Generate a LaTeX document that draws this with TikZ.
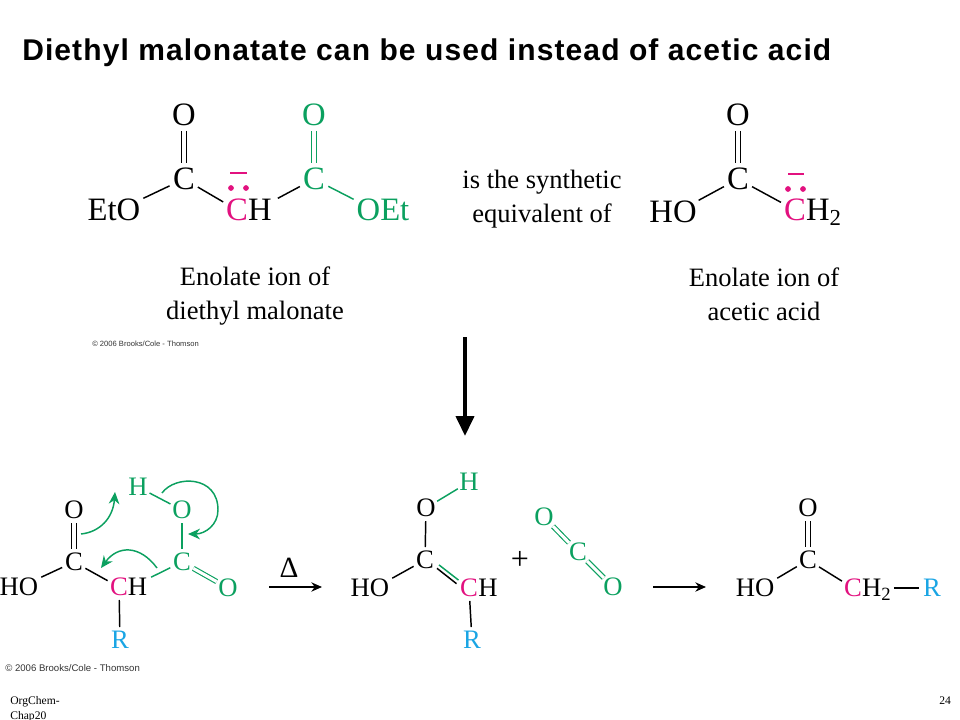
\documentclass[tikz,border=0pt]{standalone}
\usepackage{fontspec}
\setmainfont{Liberation Serif}
\newfontfamily\hdfont[LetterSpace=3.7]{Liberation Sans}
\newfontfamily\crfont{Liberation Sans}
\usetikzlibrary{arrows.meta}
\definecolor{gr}{HTML}{0BA05F}
\definecolor{pk}{HTML}{E2117F}
\definecolor{bl}{HTML}{1AA5E4}
\tikzset{
  big/.style={font=\fontsize{24.5}{26}\selectfont,inner sep=0pt,outer sep=0pt,text height=16pt,text depth=0pt},
  small/.style={font=\fontsize{20}{22}\selectfont,inner sep=0pt,outer sep=0pt,text height=13.2pt,text depth=0pt},
  atomb/.style={big,circle,minimum size=24pt},
  atoms/.style={small,circle,minimum size=19.5pt},
  bond/.style={line width=1.1pt},
  dbl/.style={line width=.85pt,double,double distance=2.8pt},
  dbls/.style={line width=.85pt,double,double distance=2.3pt},
  captxt/.style={font=\fontsize{19.9}{25.2}\selectfont,align=center,anchor=center,inner sep=0pt},
  copyr/.style={font=\crfont\fontsize{5.7}{7}\selectfont,text=black!80,anchor=base west,inner sep=0pt},
  copyrb/.style={font=\crfont\fontsize{7.2}{8}\selectfont,text=black!80,anchor=base west,inner sep=0pt},
  foot/.style={font=\fontsize{8.7}{11}\selectfont,anchor=base west,inner sep=0pt},
  curved/.style={gr,line width=1.1pt,-{Stealth[length=9pt,width=8pt]}},
  rxn/.style={line width=1pt,-{Stealth[length=8pt,width=7pt]}},
  lp/.style={pk,fill=pk,circle,minimum size=4.3pt,inner sep=0pt}
}
\begin{document}
\begin{tikzpicture}[x=.75pt,y=-.75pt]
\useasboundingbox (0,0) rectangle (960,720);
% title
\node[font=\hdfont\bfseries\fontsize{22.5}{24}\selectfont,anchor=base west,inner sep=0pt] (title) at (22,60.5) {Diethyl malonatate can be used instead of acetic acid};
% --- malonate enolate
\node[atomb] (o1) at (184,115) {O};
\node[atomb] (c1) at (184,179) {C};
\node[big] (eto) at (114,210) {EtO};
\node[atomb,text=pk] (c2) at (237,210) {C};
\node[big] (h2) at (260,210) {H};
\node[atomb,text=gr] (o3) at (314,115) {O};
\node[atomb,text=gr] (c3) at (314,179) {C};
\node[big,text=gr] (oet) at (383,210) {OEt};
\draw[dbl] (o1) -- (c1);
\draw[bond] ([shift={(3,-1)}]eto.north east) -- (c1);
\draw[bond] (c1) -- (c2);
\draw[bond] ([shift={(6,-1)}]h2.north east) -- (c3);
\draw[dbl,gr] (o3) -- (c3);
\draw[bond,gr] (c3) -- ([shift={(-3,0)}]oet.north west);
\node[lp] (d1) at (231,188) {};
\node[lp] (d2) at (246,188) {};
\coordinate (m1a) at (230,173);
\coordinate (m1b) at (247,173);
\draw[pk,line width=1pt] (m1a) -- (m1b);
\node[captxt] (t1) at (255,296) {Enolate ion of\\diethyl malonate};
\node[copyr] (cr1) at (92,346) {© 2006 Brooks/Cole - Thomson};
\node[captxt] (t2) at (542,199) {is the synthetic\\equivalent of};
% --- acetic acid enolate
\node[atomb] (o4) at (738,115) {O};
\node[atomb] (c4) at (738,179) {C};
\node[big] (ho4) at (673,212) {HO};
\node[atomb,text=pk] (c5) at (795,210) {C};
\node[big,anchor=west] (h5) at (806,210) {H$_{\mathrm 2}$};
\draw[dbl] (o4) -- (c4);
\draw[bond] ([shift={(2,-1)}]ho4.north east) -- (c4);
\draw[bond] (c4) -- (c5);
\node[lp] (d3) at (788,189) {};
\node[lp] (d4) at (803,189) {};
\coordinate (m2a) at (788,174);
\coordinate (m2b) at (804,174);
\draw[pk,line width=1pt] (m2a) -- (m2b);
\node[captxt] (t3) at (764,294) {Enolate ion of\\acetic acid};
% --- big arrow
\coordinate (ba) at (465,337);
\coordinate (bb) at (465,436);
\draw[line width=3pt,-{Triangle[length=15pt,width=13.5pt]}] (ba) -- (bb);
% --- lower left
\node[atoms] (o6) at (74,510) {O};
\node[atoms] (c6) at (74,562) {C};
\node[small] (ho6) at (19,587) {HO};
\node[atoms,text=pk] (c7) at (119,587) {C};
\node[small] (h7) at (137.5,587) {H};
\node[atoms,text=bl] (r7) at (120,640) {R};
\node[atoms,text=gr] (c8) at (182,562) {C};
\node[atoms,text=gr] (o8) at (182,510) {O};
\node[atoms,text=gr] (h8) at (138,487) {H};
\node[atoms,text=gr] (o9) at (228,588) {O};
\draw[dbls] (o6) -- (c6);
\draw[bond] ([shift={(3,-1)}]ho6.north east) -- (c6);
\draw[bond] (c6) -- (c7);
\draw[bond] (c7) -- (r7);
\draw[bond,gr] ([shift={(4,-1)}]h7.north east) -- (c8);
\draw[dbls,gr] (c8) -- (o9);
\draw[bond,gr] (o8) -- (c8);
\draw[bond,gr] (h8) -- (o8);
\coordinate (a1s) at (81,534);
\coordinate (a1e) at (115,492);
\coordinate (a2s) at (162,493);
\coordinate (a2e) at (188,534);
\coordinate (a3s) at (157,568);
\coordinate (a3e) at (101,568);
\draw[curved] (a1s) .. controls (100,532) and (113,518) .. (a1e);
\draw[curved] (a2s) .. controls (175,475) and (218,475) .. (218,510) .. controls (218,525) and (205,534) .. (a2e);
\draw[curved] (a3s) .. controls (140,545) and (118,545) .. (a3e);
\node[font=\fontsize{22}{24}\selectfont,inner sep=0pt] (delta) at (289,568) {Δ};
\coordinate (r1a) at (269,587);
\coordinate (r1b) at (322,587);
\draw[rxn] (r1a) -- (r1b);
% --- middle
\node[atoms] (o10) at (426,508) {O};
\node[atoms,text=gr] (h10) at (469,482) {H};
\node[atoms] (c10) at (425,560) {C};
\node[small] (ho10) at (370,588) {HO};
\node[atoms,text=pk] (c11) at (469,588) {C};
\node[small] (h11) at (488,588) {H};
\node[atoms,text=bl] (r11) at (472,640) {R};
\node[font=\fontsize{24}{26}\selectfont,inner sep=0pt] (plus) at (520,560) {+};
\node[atoms,text=gr] (o12) at (544,517) {O};
\node[atoms,text=gr] (c12) at (578,552) {C};
\node[atoms,text=gr] (o13) at (613,587) {O};
\draw[bond,gr] (o10) -- (h10);
\draw[bond] (o10) -- (c10);
\draw[bond] ([shift={(3,-1)}]ho10.north east) -- (c10);
\draw[bond,gr] ([shift={(2.5,-1.2)}]c10.-28) -- ([shift={(1,-1.8)}]c11.152);
\draw[bond] ([shift={(0.5,2.2)}]c10.-28) -- ([shift={(-1,1.8)}]c11.152);
\draw[bond] (c11) -- (r11);
\draw[dbls,gr] (o12) -- (c12);
\draw[dbls,gr] (c12) -- (o13);
\coordinate (r2a) at (653,587);
\coordinate (r2b) at (706,587);
\draw[rxn] (r2a) -- (r2b);
% --- product
\node[atoms] (o14) at (808,508) {O};
\node[atoms] (c14) at (808,560) {C};
\node[small] (ho14) at (755,588) {HO};
\node[atoms,text=pk] (c15) at (853,588) {C};
\node[small,anchor=west] (h15) at (862,588) {H$_{\mathrm 2}$};
\node[atoms,text=bl] (r15) at (932,588) {R};
\draw[dbls] (o14) -- (c14);
\draw[bond] ([shift={(3,-1)}]ho14.north east) -- (c14);
\draw[bond] (c14) -- (c15);
\draw[bond] ([xshift=2pt]h15.east) -- (r15);
\node[copyrb] (cr2) at (5,671) {© 2006 Brooks/Cole - Thomson};
% --- footer
\node[foot] (f1) at (10,704) {OrgChem-};
\node[foot] (f2) at (10,719) {Chap20};
\node[foot] (f3) at (939,704) {24};
\end{tikzpicture}
\end{document}
